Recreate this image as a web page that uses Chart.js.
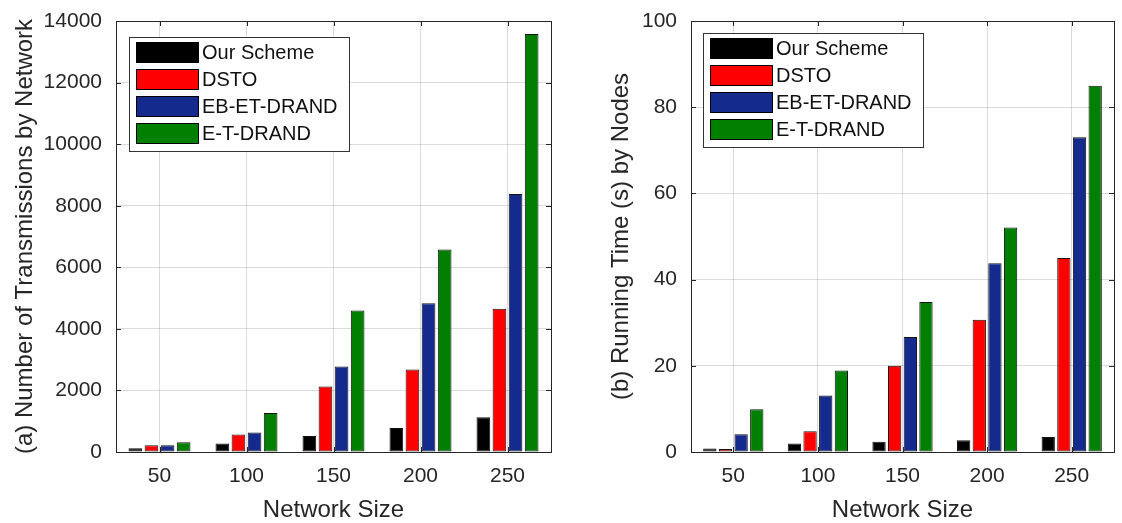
<!DOCTYPE html>
<html lang="en">
<head>
    <meta charset="UTF-8">
    <title>Transmissions and Running Time by Network Size</title>
    <script src="https://cdn.jsdelivr.net/npm/chart.js"></script>
    <style>
        html, body { margin: 0; padding: 0; background: #fff; }
        .panel { position: absolute; top: 0; height: 523px; }
        #leftPanel { left: 0; width: 561px; }
        #rightPanel { left: 561px; width: 561px; }
    </style>
</head>
<body>
    <div class="panel" id="leftPanel"><canvas id="transChart"></canvas></div>
    <div class="panel" id="rightPanel"><canvas id="timeChart"></canvas></div>

    <script>
        // values
        const sizes = ['50', '100', '150', '200', '250'];
        const seriesNames = ['Our Scheme', 'DSTO', 'EB-ET-DRAND', 'E-T-DRAND'];
        const seriesColors = ['#000000', '#ff0000', '#142a8c', '#007f00'];

        const transOurs = [120, 280, 520, 780, 1130];
        const transDsto = [220, 570, 2130, 2680, 4650];
        const transEbEt = [220, 630, 2780, 4830, 8380];
        const transEt = [320, 1270, 4600, 6580, 13580];

        const timeOurs = [0.8, 2, 2.4, 2.7, 3.5];
        const timeDsto = [0.7, 4.8, 20, 30.7, 45];
        const timeEbEt = [4.1, 13.1, 26.7, 43.8, 73];
        const timeEt = [9.9, 18.9, 34.8, 52.1, 85];

        const FONT = '"Liberation Sans", Arial, Helvetica, sans-serif';
        const TEXT = '#262626';

        // MATLAB style box around the axes, with small inward ticks on all sides
        const frameAndLegend = {
            id: 'frameAndLegend',
            afterDraw(chart, args, opts) {
                const ctx = chart.ctx;
                const a = chart.chartArea;
                const xs = chart.scales.x, ys = chart.scales.y;
                ctx.save();
                ctx.strokeStyle = TEXT;
                ctx.lineWidth = 1;
                ctx.beginPath();
                ys.ticks.forEach((t, i) => {
                    const y = Math.round(ys.getPixelForTick(i)) + 0.5;
                    ctx.moveTo(a.left, y); ctx.lineTo(a.left + 5, y);
                    ctx.moveTo(a.right, y); ctx.lineTo(a.right - 5, y);
                });
                xs.ticks.forEach((t, i) => {
                    const x = Math.round(xs.getPixelForValue(i)) + 0.5;
                    ctx.moveTo(x, a.bottom); ctx.lineTo(x, a.bottom - 5);
                    ctx.moveTo(x, a.top); ctx.lineTo(x, a.top + 5);
                });
                ctx.stroke();
                ctx.strokeRect(Math.round(a.left) + 0.5, Math.round(a.top) + 0.5,
                    Math.round(a.right - a.left), Math.round(a.bottom - a.top));

                // legend box
                const bx = a.left + opts.x, by = a.top + opts.y;
                ctx.fillStyle = '#fff';
                ctx.fillRect(bx, by, opts.w, opts.h);
                ctx.strokeStyle = '#333';
                ctx.strokeRect(Math.round(bx) + 0.5, Math.round(by) + 0.5, opts.w, opts.h);
                ctx.font = '20px ' + FONT;
                ctx.textBaseline = 'middle';
                chart.data.datasets.forEach((ds, i) => {
                    const sy = by + 5 + i * 27;
                    ctx.fillStyle = ds.backgroundColor;
                    ctx.fillRect(bx + 7, sy, 63, 21);
                    ctx.strokeStyle = '#000';
                    ctx.strokeRect(bx + 7.5, sy + 0.5, 62, 20);
                    ctx.fillStyle = '#111';
                    ctx.fillText(ds.label, bx + 73, sy + 11.5);
                });
                ctx.restore();
            }
        };

        function makeDatasets(lists) {
            return lists.map((vals, i) => ({
                label: seriesNames[i],
                data: vals,
                backgroundColor: seriesColors[i],
                borderColor: '#111',
                borderWidth: 1,
                borderSkipped: false,
                categoryPercentage: 0.74,
                barPercentage: 0.85
            }));
        }

        function makeChart(id, lists, yMax, yStep, yTitle, pad, axisW, titlePad, legend) {
            return new Chart(document.getElementById(id), {
                type: 'bar',
                data: { labels: sizes, datasets: makeDatasets(lists) },
                options: {
                    responsive: true,
                    maintainAspectRatio: false,
                    animation: false,
                    layout: { padding: pad },
                    plugins: {
                        legend: { display: false },
                        tooltip: { enabled: false },
                        frameAndLegend: legend
                    },
                    scales: {
                        x: {
                            grid: { offset: false, color: 'rgba(0,0,0,0.14)', drawTicks: false },
                            border: { display: false },
                            ticks: { color: TEXT, font: { family: FONT, size: 21 }, padding: 12 },
                            title: { display: true, text: 'Network Size', color: TEXT,
                                     font: { family: FONT, size: 24 }, padding: { top: 0, bottom: -2 } },
                            afterFit(s) { s.height = 71; s.paddingLeft = 0; s.paddingRight = 0; }
                        },
                        y: {
                            min: 0, max: yMax,
                            grid: { color: 'rgba(0,0,0,0.14)', drawTicks: false },
                            border: { display: false },
                            ticks: { stepSize: yStep, color: TEXT, font: { family: FONT, size: 21 }, padding: 14,
                                     callback: v => String(v) },
                            title: { display: true, text: yTitle, color: TEXT,
                                     font: { family: FONT, size: 24 }, padding: { top: titlePad, bottom: 0 } },
                            afterFit(s) { s.width = axisW; s.paddingTop = 0; s.paddingBottom = 0; }
                        }
                    }
                },
                plugins: [frameAndLegend]
            });
        }

        makeChart('transChart', [transOurs, transDsto, transEbEt, transEt], 14000, 2000,
            '(a) Number of Transmissions by Network',
            { left: 0, top: 21, right: 10, bottom: 0 }, 116, 11,
            { x: 13, y: 16, w: 220, h: 114 });

        makeChart('timeChart', [timeOurs, timeDsto, timeEbEt, timeEt], 100, 20,
            '(b) Running Time (s) by Nodes',
            { left: 34, top: 21, right: 8, bottom: 0 }, 96, 12,
            { x: 12, y: 12, w: 220, h: 114 });
    </script>
</body>
</html>
